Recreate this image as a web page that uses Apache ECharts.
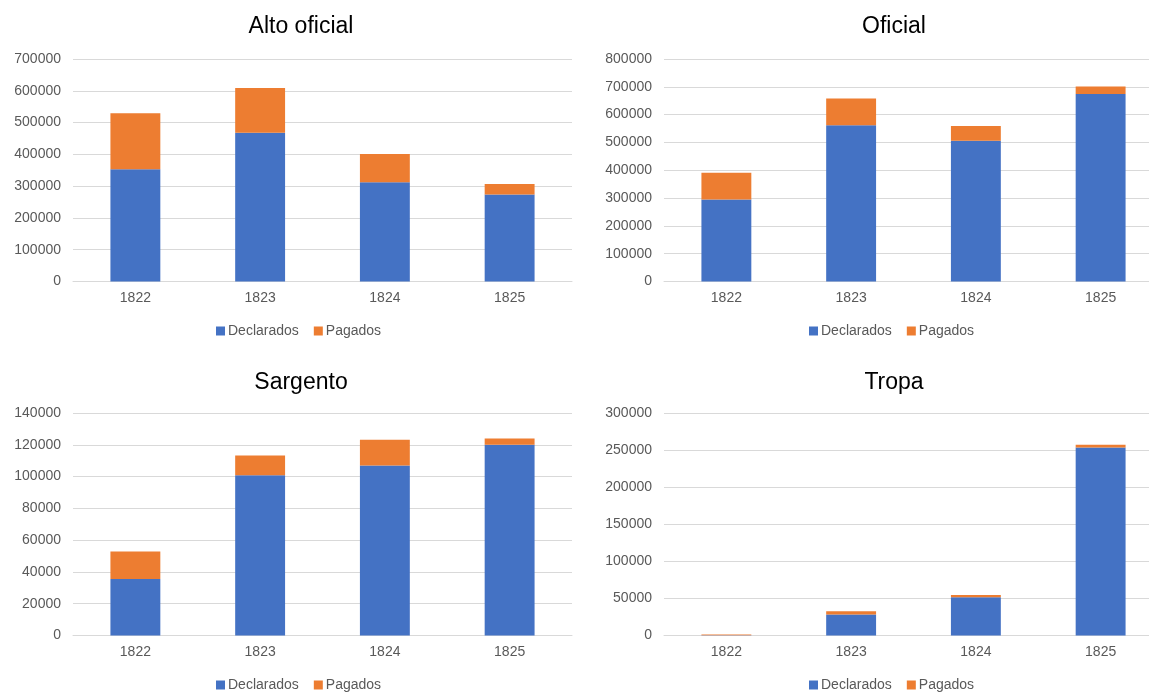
<!DOCTYPE html>
<html>
<head>
<meta charset="utf-8">
<script src="https://cdn.jsdelivr.net/npm/echarts@6/dist/echarts.min.js"></script>
<style>
html,body{margin:0;padding:0;background:#fff;}
#chart{width:1149px;height:692px;}
</style>
</head>
<body>
<div id="chart"></div>
<script>
const categories = ['1822', '1823', '1824', '1825'];
const panelTitles = ['Alto oficial', 'Oficial', 'Sargento', 'Tropa'];
const seriesNames = ['Declarados', 'Pagados'];

const altoDeclarados = [353000, 468000, 312000, 274000];
const altoPagados    = [176000, 141000, 89000, 33000];

const oficialDeclarados = [295000, 562000, 506000, 674000];
const oficialPagados    = [96000, 96000, 53000, 27000];

const sargentoDeclarados = [35600, 100800, 107000, 120000];
const sargentoPagados    = [17200, 12500, 16100, 4000];

const tropaDeclarados = [500, 28200, 51500, 253600];
const tropaPagados    = [1000, 4500, 3100, 3600];

const axisMax = [700000, 800000, 140000, 300000];
const axisInterval = [100000, 100000, 20000, 50000];

const panelData = [
  [altoDeclarados, altoPagados],
  [oficialDeclarados, oficialPagados],
  [sargentoDeclarados, sargentoPagados],
  [tropaDeclarados, tropaPagados]
];

const colors = ['#4472C4', '#ED7D31'];
const font = 'Liberation Sans, Arial, sans-serif';

const layout = [
  {left: 73, top: 59, centerX: 296, titleY: 10, legendY: 319},
  {left: 664, top: 59, centerX: 889, titleY: 10, legendY: 319},
  {left: 73, top: 413, centerX: 296, titleY: 366, legendY: 673},
  {left: 664, top: 413, centerX: 889, titleY: 366, legendY: 673}
];

const grids = [], xAxes = [], yAxes = [], series = [], titles = [], legends = [];
layout.forEach((L, i) => {
  grids.push({left: L.left, top: L.top, width: 499, height: 222.5, containLabel: false, outerBoundsMode: 'none'});
  titles.push({
    text: panelTitles[i], left: L.centerX, top: L.titleY, textAlign: 'center',
    textStyle: {fontFamily: font, fontSize: 23, fontWeight: 'normal', color: '#000'}
  });
  xAxes.push({
    type: 'category', gridIndex: i, data: categories,
    axisLine: {show: true, lineStyle: {color: '#d9d9d9', width: 1}},
    axisTick: {show: false},
    axisLabel: {fontFamily: font, fontSize: 14, color: '#595959', margin: 10}
  });
  yAxes.push({
    type: 'value', gridIndex: i, min: 0, max: axisMax[i], interval: axisInterval[i],
    axisLine: {show: false}, axisTick: {show: false},
    splitLine: {lineStyle: {color: '#d9d9d9', width: 1}},
    axisLabel: {fontFamily: font, fontSize: 14, color: '#595959', margin: 12,
                formatter: v => String(v)}
  });
  seriesNames.forEach((nm, k) => {
    series.push({
      name: nm, type: 'bar', stack: 'p' + i, xAxisIndex: i, yAxisIndex: i,
      data: panelData[i][k], barWidth: '40%',
      itemStyle: {color: colors[k]}
    });
  });
  legends.push({
    data: seriesNames, left: L.centerX - 85, top: L.legendY,
    icon: 'rect', itemWidth: 9, itemHeight: 9, itemGap: 15,
    textStyle: {fontFamily: font, fontSize: 14, color: '#595959', padding: [0, 0, 0, -2]}
  });
});

const chart = echarts.init(document.getElementById('chart'), null, {renderer: 'canvas'});
chart.setOption({
  animation: false,
  backgroundColor: '#fff',
  title: titles,
  legend: legends,
  grid: grids,
  xAxis: xAxes,
  yAxis: yAxes,
  series: series
});
</script>
</body>
</html>
